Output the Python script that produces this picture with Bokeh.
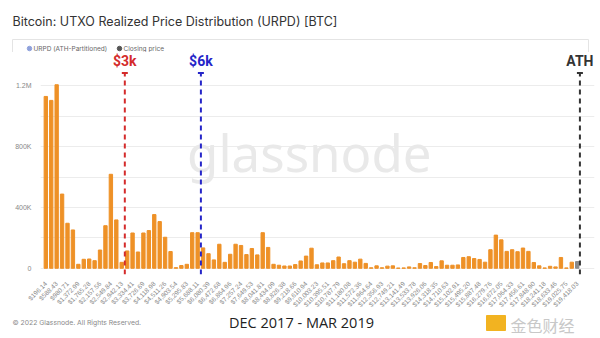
from bokeh.plotting import figure
from bokeh.models import Range1d, FixedTicker
from bokeh.core.properties import value
from bokeh.embed import file_html
from bokeh.resources import INLINE

# tick labels (every other price bin)
bin_labels = ["$196.14", "$588.43", "$980.71", "$1,372.99", "$1,765.28", "$2,157.56",
              "$2,549.84", "$2,942.13", "$3,334.41", "$3,726.69", "$4,118.98", "$4,511.26",
              "$4,903.54", "$5,295.83", "$5,688.11", "$6,080.39", "$6,472.68", "$6,864.96",
              "$7,257.24", "$7,649.53", "$8,041.81", "$8,434.09", "$8,826.38", "$9,218.66",
              "$9,610.94", "$10,003.23", "$10,395.51", "$10,787.79", "$11,180.08", "$11,572.36",
              "$11,964.64", "$12,356.93", "$12,749.21", "$13,141.49", "$13,533.78", "$13,926.06",
              "$14,318.35", "$14,710.63", "$15,102.91", "$15,495.20", "$15,887.48", "$16,279.76",
              "$16,672.05", "$17,064.33", "$17,456.61", "$17,848.90", "$18,241.18", "$18,633.46",
              "$19,025.75", "$19,418.03"]

# URPD supply per bin, thousands of BTC
urpd_k = [1130, 1104, 1207, 488, 296, 252, 26, 59, 61, 50,
          120, 280, 618, 318, 39, 114, 232, 107, 232, 248,
          353, 307, 204, 110, 4, 18, 26, 234, 234, 134,
          96, 55, 158, 39, 92, 158, 150, 90, 130, 88,
          234, 137, 26, 20, 15, 15, 24, 48, 80, 132,
          23, 35, 35, 50, 74, 30, 50, 40, 60, 32,
          3, 16, 3, 14, 16, 1, 2, 9, 3, 31,
          18, 38, 11, 49, 20, 20, 22, 71, 76, 64,
          58, 40, 122, 218, 187, 111, 122, 109, 133, 111,
          38, 16, 2, 13, 9, 71, 2, 40, 44]
closing_bin = 98

marker_names = ["$3k", "$6k", "ATH"]
marker_bins = [14.57, 28.6, 98.5]
marker_colors = ["#d42b2b", "#2525c8", "#333333"]

idx = list(range(len(urpd_k)))
vals = [v * 1000 for v in urpd_k]
colors = ["#8a8a8a" if i == closing_bin else "#EE9127" for i in idx]


def bare(fig):
    fig.grid.visible = False
    fig.outline_line_color = None
    return fig


# ---------- header ----------
head = bare(figure(width=600, height=52, output_backend="svg", toolbar_location=None,
                   x_range=Range1d(0, 600), y_range=Range1d(52, 0),
                   x_axis_location=None, y_axis_location=None, min_border=0))
head.segment(x0=[12], y0=[39], x1=[588], y1=[39], line_color="#e4e4e4", line_width=1)
head.segment(x0=[12, 588], y0=[39, 39], x1=[12, 588], y1=[52, 52], line_color="#e4e4e4", line_width=1)
head.text(x=[12], y=[21], text=["Bitcoin: UTXO Realized Price Distribution (URPD) [BTC]"],
          text_font=value("Inter"), text_font_size="12.5px", text_color="#333333",
          text_baseline="middle")
head.scatter(x=[29, 119], y=[48, 48], size=4.5, color=["#8fa2dc", "#555555"])
head.text(x=[33, 123], y=[48, 48], text=["URPD (ATH-Partitioned)", "Closing price"],
          text_font=value("Inter"), text_font_size="6.5px", text_color="#666666",
          text_baseline="middle")

# ---------- main ----------
p = figure(width=600, height=261, output_backend="svg", toolbar_location=None,
           x_range=Range1d(-0.98, 101.19), y_range=Range1d(-41000, 1419000),
           min_border_left=40, min_border_right=6, min_border_top=0, min_border_bottom=39)
p.outline_line_color = None

p.text(x=[48.6], y=[765000], text=["glassnode"], text_color="#e9e9e9",
       text_font=value("Noto Sans"), text_font_size="51px",
       text_align="center", text_baseline="middle")

p.vbar(x=idx, top=vals, width=0.62, color=colors)

p.segment(x0=marker_bins, y0=[-41000] * 3, x1=marker_bins, y1=[1280000] * 3,
          line_color=marker_colors, line_width=2, line_dash="5 4")
p.scatter(x=marker_bins, y=[1285000] * 3, marker="dash", size=6,
          line_color=marker_colors, line_width=2)
p.text(x=marker_bins, y=[1360000] * 3, text=marker_names, text_color=marker_colors,
       text_font=value("Roboto"), text_font_size="14px", text_font_style="bold",
       text_align="center", text_baseline="middle")

p.yaxis.ticker = FixedTicker(ticks=[0, 400000, 800000, 1200000],
                             minor_ticks=[200000, 600000, 1000000])
p.yaxis.major_label_overrides = {0: "0", 400000: "400K", 800000: "800K", 1200000: "1.2M"}
p.yaxis.axis_line_color = None
p.yaxis.major_tick_line_color = None
p.yaxis.minor_tick_line_color = None
p.yaxis.major_label_text_font_size = "7px"
p.yaxis.major_label_text_color = "#888888"
p.yaxis.major_label_standoff = 3
p.ygrid.grid_line_color = "#ececec"
p.ygrid.minor_grid_line_color = "#ececec"
p.xgrid.grid_line_color = None

p.xaxis.ticker = FixedTicker(ticks=[2 * i for i in range(len(bin_labels))])
p.xaxis.major_label_overrides = {2 * i: lbl for i, lbl in enumerate(bin_labels)}
p.xaxis.major_label_orientation = 0.785398
p.xaxis.axis_line_color = None
p.xaxis.major_tick_line_color = None
p.xaxis.minor_tick_line_color = None
p.xaxis.major_label_text_font_size = "6.5px"
p.xaxis.major_label_text_color = "#888888"
p.xaxis.major_label_standoff = 2

# ---------- footer ----------
foot = bare(figure(width=600, height=25, output_backend="svg", toolbar_location=None,
                   x_range=Range1d(0, 600), y_range=Range1d(338, 313),
                   x_axis_location=None, y_axis_location=None, min_border=0))
foot.text(x=[12], y=[322], text=["© 2022 Glassnode. All Rights Reserved."],
          text_font=value("Inter"), text_font_size="6.8px", text_color="#8a8a8a",
          text_baseline="middle")
foot.text(x=[301], y=[322], text=["DEC 2017 - MAR 2019"],
          text_font=value("Open Sans"), text_font_size="14.5px", text_color="#222222",
          text_baseline="middle", text_align="center")
foot.quad(left=[486], right=[505], top=[330], bottom=[315], color="#f2b321")
foot.text(x=[510], y=[324], text=["金色财经"], text_font=value("Noto Sans CJK SC"),
          text_font_size="16px", text_color="#c8c8c8", text_baseline="middle")

open("out.html", "w").write(file_html([head, p, foot], INLINE))
